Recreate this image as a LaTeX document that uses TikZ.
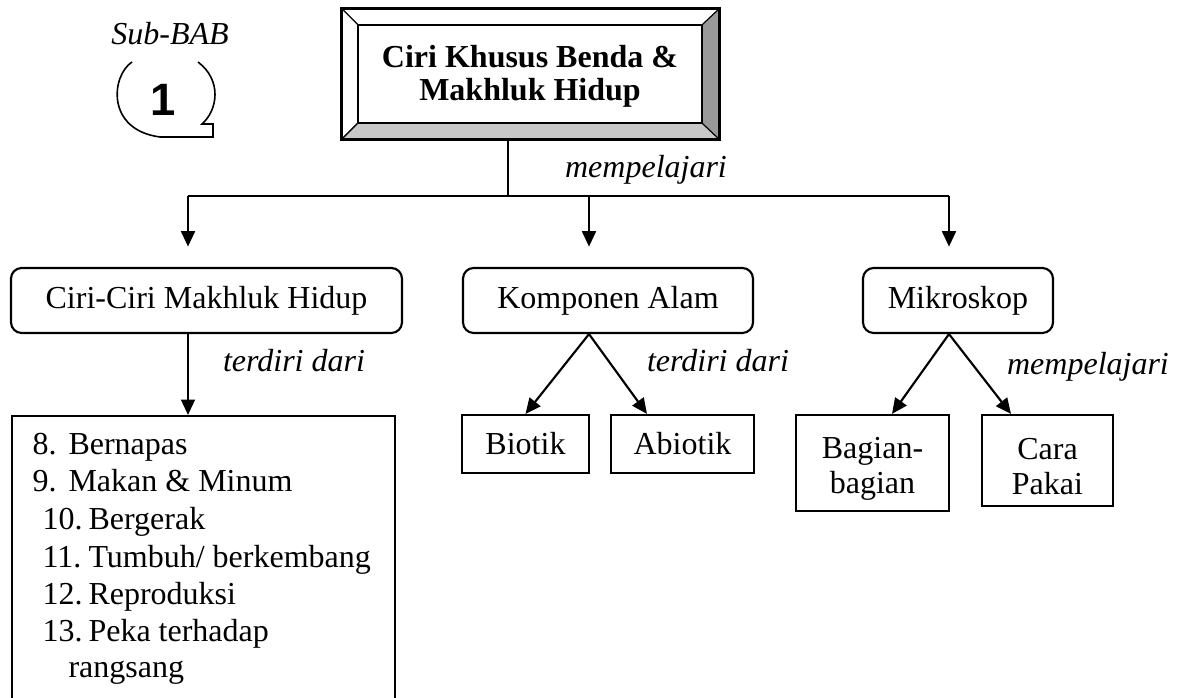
\documentclass[tikz,border=0pt]{standalone}
\usepackage{fontspec}
\setmainfont{Liberation Serif}
\newfontfamily\badgefont{Liberation Sans}
\usetikzlibrary{arrows.meta,calc}
\definecolor{bevlight}{HTML}{C8C8C8}
\definecolor{bevdark}{HTML}{999999}
\begin{document}
\begin{tikzpicture}[x=0.375pt,y=-0.375pt,
  every node/.style={font=\fontsize{12}{14}\selectfont, inner sep=0pt},
  lw/.style={line width=0.8pt},
  rbox/.style={draw, line width=0.8pt, rounded corners=4pt, minimum height={65*0.375pt}},
  sbox/.style={draw, line width=0.8pt},
  twoline/.style={align=center, font=\fontsize{12}{13.1}\selectfont},
  arr/.style={line width=0.8pt, -{Triangle[length=5.8pt,width=5.2pt]}},
  lab/.style={font=\fontsize{12}{14}\selectfont\itshape, anchor=base},
  litem/.style={anchor=base west}
]
\useasboundingbox (0,0) rectangle (1188,698);

% badge
\node[lab] (sub) at (170,45) {Sub-BAB};
\draw[line width=0.6pt] (132,62) .. controls (111,76) and (106,130) .. (160,137) -- (213,137) -- (213,124) -- (202,124) .. controls (218,110) and (222,80) .. (198,62);
\node[font={\badgefont\bfseries\fontsize{17}{18}\selectfont}] (one) at (163.5,100) {1};

% title box with bevel
\node[minimum width={377*0.375pt}, minimum height={130*0.375pt}] (title) at (530.5,74) {};
\draw[line width=0.4pt, fill=white] (342,9) -- (719,9) -- (702,25) -- (358,25) -- cycle;
\draw[line width=0.4pt, fill=white] (342,9) -- (358,25) -- (358,123) -- (342,139) -- cycle;
\draw[line width=0.4pt, fill=bevlight] (342,139) -- (358,123) -- (702,123) -- (719,139) -- cycle;
\draw[line width=0.4pt, fill=bevdark] (719,9) -- (702,25) -- (702,123) -- (719,139) -- cycle;
\draw[lw] (title.north west) rectangle (title.south east);
\draw[lw] (358,25) rectangle (702,123);
\node[font=\fontsize{12}{12.4}\selectfont\bfseries, align=center] (titletext) at (530,76) {Ciri Khusus Benda \&\\Makhluk Hidup};

% branch lines
\coordinate (hl) at (188,196);
\coordinate (hm) at (508,196);
\coordinate (hk) at (589,196);
\coordinate (hr) at (949,196);
\node[lab] (l1) at (646,178) {mempelajari};

% second level
\node[rbox, minimum width={391*0.375pt}] (ciri) at (206.5,300.5) {Ciri-Ciri Makhluk Hidup};
\node[rbox, minimum width={290*0.375pt}] (kom) at (608,300.5) {Komponen Alam};
\node[rbox, minimum width={190*0.375pt}] (mik) at (958,300.5) {Mikroskop};

\draw[lw] (title.south -| hm) -- (hm);
\draw[lw] (hl) -- (hr);
\draw[arr, shorten >=7.6pt] (hl) -- (hl |- ciri.north);
\draw[arr, shorten >=7.6pt] (hk) -- (hk |- kom.north);
\draw[arr, shorten >=7.6pt] (hr) -- (hr |- mik.north);

% list
\node[sbox, minimum width={383*0.375pt}, minimum height={330*0.375pt}, anchor=north] (list) at (203.5,415) {};
\node[litem] (i8) at (32,455) {\makebox[13.5pt][l]{8.}Bernapas};
\node[litem] (i9) at (32,492) {\makebox[13.5pt][l]{9.}Makan \& Minum};
\node[litem] (i10) at (42,530) {\makebox[17.25pt][l]{10.}Bergerak};
\node[litem] (i11) at (42,568) {\makebox[17.25pt][l]{11.}Tumbuh/ berkembang};
\node[litem] (i12) at (42,605) {\makebox[17.25pt][l]{12.}Reproduksi};
\node[litem] (i13) at (42,642) {\makebox[17.25pt][l]{13.}Peka terhadap};
\node[litem] (i13b) at (68,678) {rangsang};

\draw[arr] (ciri.south -| hl) -- (list.north -| hl);
\node[lab] (l2) at (294,372) {terdiri dari};

% komponen children
\node[sbox, minimum width={127*0.375pt}, minimum height={58*0.375pt}] (bio) at (525.5,444) {Biotik};
\node[sbox, minimum width={143*0.375pt}, minimum height={58*0.375pt}] (abi) at (682.5,444) {Abiotik};
\draw[arr] (kom.south -| hk) -- (bio.north);
\draw[arr] (kom.south -| hk) -- ($(abi.north)+(-35.5,0)$);
\node[lab] (l3) at (718,372) {terdiri dari};

% mikroskop children
\node[sbox, minimum width={153*0.375pt}, minimum height={96*0.375pt}] (bag) at (872.5,463) {};
\node[twoline] (bagt) at (872.5,469) {Bagian-\\bagian};
\node[sbox, minimum width={131*0.375pt}, minimum height={91*0.375pt}] (cara) at (1047.5,460.5) {};
\node[twoline] (carat) at (1047.5,467) {Cara\\Pakai};
\draw[arr] (mik.south -| hr) -- ($(bag.north)+(19.5,0)$);
\draw[arr] (mik.south -| hr) -- ($(cara.north)+(-36.5,0)$);
\node[lab] (l4) at (1088,375) {mempelajari};
\end{tikzpicture}
\end{document}
